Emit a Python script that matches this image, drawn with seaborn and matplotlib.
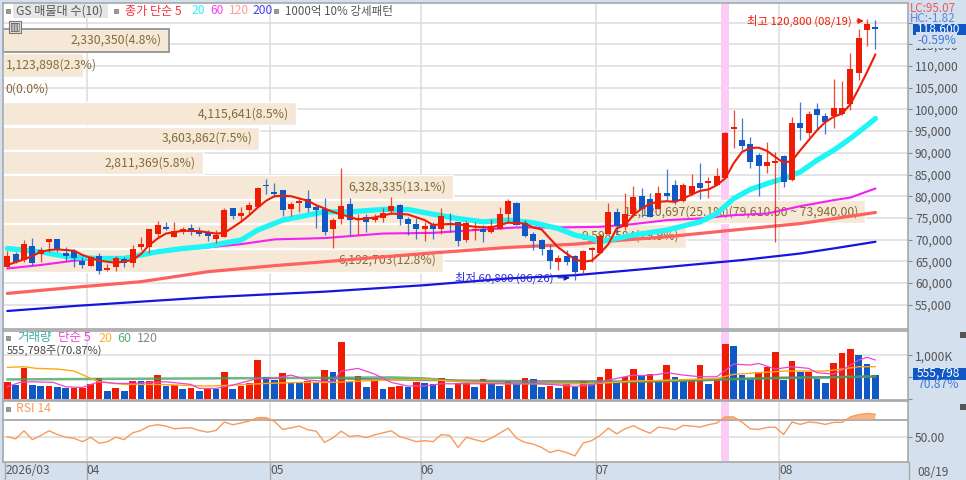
import matplotlib
matplotlib.use("Agg")
import matplotlib.pyplot as plt
import numpy as np
import seaborn as sns

# candles, one row of values per ~10 days
opens = [63750, 66650, 65300, 68500, 66650, 69450, 70100, 66950, 67450, 65000,
         64000, 66200, 62900, 63750, 65600, 64650, 68200, 68200, 71200, 72950,
         70650, 71650, 72650, 72100, 71650, 70250, 70650, 77250, 75500, 76800,
         77550, 82700, 80950, 81400, 77000, 78550, 79250, 77550, 76950, 72350,
         74650, 78150, 74500, 75250, 74500, 75050, 76550, 77950, 74650, 73700,
         72500, 73400, 72500, 73700, 73950, 69900, 72200, 72550, 71650, 72400,
         75850, 78400, 73900, 71250, 69900, 67600, 64750, 66200, 66200, 62950,
         67500, 66950, 71400, 76400, 73000, 75850, 80100, 79250, 77150, 80800,
         82550, 78850, 80600, 82950, 83150, 82700, 84100, 95600, 93050, 92000,
         89600, 86900, 87750, 89200, 83700, 96900, 94600, 100000, 98400, 98400,
         98900, 101200, 108400, 118200, 118900]
highs = [67350, 67200, 69900, 70400, 68350, 70250, 70250, 68200, 67750, 65900,
         66200, 66800, 64300, 66200, 65900, 68750, 70650, 72550, 74250, 74100,
         73950, 72950, 73700, 72800, 72200, 72200, 77200, 77400, 77550, 78700,
         82150, 83950, 83150, 81400, 78700, 79500, 81400, 77950, 79500, 75050,
         86450, 79500, 76000, 76000, 76000, 77200, 79850, 78100, 75250, 75050,
         74100, 74100, 77200, 76200, 74100, 74250, 74100, 73350, 74650, 77550,
         79250, 78700, 74500, 71800, 70250, 68750, 66450, 67600, 66450, 67600,
         68200, 71400, 78500, 77200, 80800, 82300, 82000, 80650, 82300, 86200,
         83850, 83100, 85200, 87550, 84450, 86600, 94800, 99800, 98100, 93650,
         89850, 92500, 90200, 89450, 98300, 101750, 99650, 101500, 99200, 107100,
         106500, 113000, 118600, 120800, 120700]
lows = [63750, 64500, 64900, 64150, 64900, 67200, 67200, 65150, 63750, 63350,
        64000, 62050, 62850, 62850, 63750, 63750, 67600, 66800, 70650, 72200,
        70650, 71400, 71050, 70800, 69650, 69250, 70650, 74800, 74350, 75650,
        77550, 80500, 79850, 75500, 75500, 76400, 76400, 72700, 71050, 68100,
        73500, 71050, 71050, 71800, 74100, 74100, 76000, 73350, 71050, 70250,
        69750, 70250, 71400, 71800, 68500, 69500, 69900, 69500, 71550, 72350,
        74100, 73350, 70500, 67600, 66450, 63150, 62950, 64150, 60800, 62350,
        64900, 66800, 71300, 71400, 72200, 75250, 75250, 75250, 76950, 79100,
        78300, 78700, 80250, 79250, 79500, 82550, 84100, 91000, 90600, 86500,
        80000, 85400, 69500, 82150, 83450, 92900, 93700, 95200, 94300, 95800,
        98650, 99800, 106700, 114550, 113900]
closes = [66200, 64900, 69100, 64650, 67600, 70100, 67750, 66200, 65800, 64150,
          65900, 62850, 63500, 65650, 64500, 67950, 69100, 72500, 73400, 72500,
          72050, 72500, 71950, 71200, 70800, 71050, 76800, 75400, 76200, 77950,
          82000, 82250, 80500, 76800, 78150, 78950, 77350, 76800, 71800, 74500,
          77700, 74500, 75050, 74100, 75250, 76200, 77700, 74700, 73700, 72350,
          73100, 72500, 75400, 73500, 69650, 73900, 72550, 71650, 73100, 75800,
          79000, 73350, 70900, 69650, 67750, 65150, 65800, 64750, 62600, 67350,
          68050, 70900, 76400, 73100, 75900, 79850, 77150, 75250, 80800, 80000,
          78700, 82550, 82300, 81800, 83300, 84600, 94650, 96000, 91500, 87900,
          87000, 87900, 88050, 83300, 96900, 95800, 98900, 98650, 97100, 100400,
          100400, 109250, 116450, 119750, 118600]

ma5_x = [0, 2, 3, 4, 5, 6, 8, 9, 11, 13, 15, 16, 17, 18, 19, 21, 23, 25, 26, 27,
         28, 29, 30, 31, 32, 33, 34, 36, 37, 39, 42, 44, 46, 48, 50, 51, 52, 54,
         56, 58, 60, 62, 63, 64, 65, 66, 67, 68, 69, 70, 71, 72, 73, 74, 75, 76,
         77, 78, 79, 80, 81, 82, 83, 84, 85, 86, 87, 88, 89, 90, 91, 92, 93, 94,
         95, 96, 97, 98, 99, 100, 101, 102, 103, 104]
ma5 = [64150, 65450, 66200, 67200, 67600, 67750, 67450, 66450, 65150, 64650,
       65300, 66650, 68750, 70250, 71400, 72050, 71950, 71400, 71550, 72800,
       74100, 75650, 77400, 78950, 80000, 80100, 80000, 78950, 77950, 76400,
       74650, 75100, 76000, 75800, 74500, 73350, 73550, 73550, 72950, 72800,
       73900, 73700, 72800, 72350, 70250, 68200, 66800, 65450, 64900, 65150,
       66800, 68950, 72570, 73350, 75650, 77150, 78300, 78700, 78850, 78700,
       79500, 80400, 81250, 81550, 82550, 84100, 87550, 90200, 91100, 91200,
       90450, 89050, 87700, 88150, 90600, 92900, 95200, 97100, 98300, 99050,
       101200, 104800, 108650, 112700]
ma20_x = [0, 2, 4, 6, 8, 11, 14, 16, 18, 21, 24, 28, 30, 33, 36, 38, 41, 45, 48,
          51, 54, 57, 60, 63, 66, 68, 70, 71, 75, 79, 83, 85, 87, 89, 91, 93, 95,
          97, 99, 101, 103, 104]
ma20 = [67950, 67600, 67200, 66450, 65900, 65650, 65650, 66450, 67200, 67950,
        68500, 69900, 72200, 74500, 75650, 76400, 76400, 76950, 76950, 75850,
        74850, 74100, 74500, 73900, 72550, 71050, 70250, 69500, 71050, 72200,
        74100, 76000, 79450, 81550, 82900, 84100, 85600, 88300, 90600, 93300,
        96350, 97900]
ma60_x = [0, 4, 8, 14, 18, 24, 28, 32, 38, 45, 51, 56, 61, 66, 71, 75, 79, 83,
          87, 91, 95, 99, 101, 104]
ma60 = [63350, 64150, 65150, 65900, 67200, 68200, 68950, 70050, 70350, 71400,
        71550, 72200, 72800, 72800, 72950, 73570, 74490, 74875, 75640, 76000,
        77700, 79100, 79700, 81780]
ma120_x = [0, 8, 16, 24, 32, 38, 50, 60, 68, 71, 79, 87, 95, 104]
ma120 = [57600, 59000, 60300, 62600, 64000, 64900, 66800, 68200, 68950, 69500,
         70650, 72200, 73700, 76250]
ma200_x = [0, 8, 16, 24, 32, 38, 50, 60, 68, 76, 88, 95, 99, 104]
ma200 = [53550, 54700, 55700, 56700, 57450, 58000, 59500, 61050, 61800, 63150,
         65280, 66800, 67970, 69500]

# volume in thousands of shares
volume = [382, 320, 702, 320, 298, 298, 275, 259, 259, 259, 343, 488, 191, 259,
          191, 412, 412, 412, 549, 298, 320, 237, 259, 191, 244, 237, 610, 237,
          298, 359, 900, 496, 435, 603, 374, 374, 412, 374, 664, 626, 1297, 412,
          534, 275, 412, 221, 275, 298, 275, 382, 359, 336, 473, 259, 359, 359,
          275, 450, 359, 298, 412, 336, 473, 450, 275, 298, 259, 359, 275, 412,
          336, 496, 687, 374, 496, 687, 534, 572, 435, 778, 511, 435, 435, 778,
          343, 435, 1251, 1221, 549, 458, 626, 725, 1068, 435, 877, 626, 626,
          450, 359, 816, 1045, 1137, 1007, 794, 555.8]
vol_side = list("RBRBBRBBRRRRBRBRBRRBRBRBRBRBRRRBBRBBRBRB"
                "RBRBRBRRBRBBRBRRBRBBRBRBBRBRBRBRRBRRBR"
                "BRBBRRBRRBBBRRRBRBRBBRRRBBB")
vma5_x = [0, 1.5, 3, 5.5, 7, 9, 11, 13, 15, 19, 22, 23, 25, 27, 30, 32, 34, 36,
          39, 40, 42, 44, 46, 48, 50, 52, 56, 60, 64, 68, 70, 72, 75, 76, 78, 79,
          81, 83, 85, 87, 89, 90, 92, 94, 96, 97, 99, 100, 102, 103, 104]
vma5 = [282, 382, 397, 382, 282, 267, 397, 359, 359, 397, 336, 244, 244, 320,
        473, 473, 549, 435, 397, 641, 702, 572, 382, 298, 298, 351, 351, 351,
        351, 290, 320, 435, 549, 534, 565, 603, 549, 511, 511, 801, 778, 816,
        687, 740, 702, 603, 572, 664, 893, 954, 893]
vma20_x = [0, 2, 3.5, 6, 8, 10, 11, 14, 18, 24, 27, 31, 35, 39, 45, 50, 55, 60,
           65, 70, 75, 80, 85, 87, 90, 93, 96, 98, 100, 102, 104]
vma20 = [725, 740, 702, 687, 641, 473, 397, 336, 336, 298, 320, 359, 382, 382,
         435, 450, 397, 351, 351, 351, 412, 435, 473, 565, 603, 641, 641, 641,
         687, 740, 740]
vma60_x = [0, 39, 46, 50, 55, 65, 75, 80, 90, 98, 104]
vma60 = [450, 488, 496, 473, 397, 359, 397, 420, 473, 496, 526]
vma120_x = [38, 50, 62, 70, 76, 84, 92, 104]
vma120 = [473, 435, 412, 412, 397, 435, 488, 511]

rsi = [50, 47.2, 56.8, 46.4, 51.2, 56.8, 52.4, 49.2, 48, 44, 49.2, 42, 44, 49.2,
       46.4, 54.4, 57.2, 62.4, 64, 62.4, 59.2, 60, 60.4, 57.2, 55.2, 57.2, 67.2,
       64, 66, 68.4, 72.4, 72.4, 68, 58.4, 60.4, 62.4, 58, 56.4, 43.2, 48.4,
       56.4, 50, 51.2, 48.8, 52, 54.4, 56.8, 50, 47.2, 44, 45.2, 44, 52.4, 51.2,
       37.2, 49.2, 46.4, 44, 48.4, 54, 60, 48, 43.2, 41.2, 37.2, 31.2, 34, 31.2,
       27.2, 42.4, 45.2, 51.2, 60, 53.2, 59.2, 62.8, 58, 54, 61.2, 60, 58, 63.2,
       62.4, 61.2, 64, 66, 73.2, 73.2, 67.2, 59.2, 58.4, 60.8, 61.2, 52.4, 67.2,
       64.4, 67.2, 66.4, 64.4, 66.8, 66.8, 73.2, 76, 77.2, 76.4]

# volume-by-price rows, top to bottom
row_price = [115900, 110270, 104630, 99000, 93360, 87730, 82100, 76460, 70830, 65190]
row_volume = [2330350, 1123898, 0, 4115641, 3603862, 2811369, 6328335, 12120697, 9598584, 6192703]
row_share = [4.8, 2.3, 0.0, 8.5, 7.5, 5.8, 13.1, 25.1, 19.9, 12.8]

price_ticks = [55000, 60000, 65000, 70000, 75000, 80000, 85000, 90000, 95000,
               100000, 105000, 110000, 115000, 120000]
month_pos = [-0.25, 9.5, 31.5, 49.5, 70.5, 92.5]
month_labels = ["2026/03", "04", "05", "06", "07", "08"]
signal_day = 86

RED = "#ee1c05"
BLUE = "#1158c7"
GRID = "#dcdcdc"
BORDER = "#a8a8a8"
PANEL = "#d5e0ee"
BEIGE = "#f5e8d6"
BROWN = "#846a36"
PINK = "#fbcdf6"
TICK_SIZE = 8.7

W, H = 966, 480

sns.set_theme(style="white")
plt.rcParams["font.family"] = ["Noto Sans CJK KR", "DejaVu Sans"]
plt.rcParams["axes.unicode_minus"] = False


def pane(top, bottom, left=3, right=908):
    a = fig.add_axes([left / W, 1 - bottom / H, (right - left) / W, (bottom - top) / H])
    a.set_xlim(-0.515, 107.9)
    for s in a.spines.values():
        s.set_color(BORDER)
        s.set_linewidth(1.2)
    return a


def line(a, xs, ys, color, lw, alpha=1.0, z=3):
    sns.lineplot(x=xs, y=ys, color=color, linewidth=lw, alpha=alpha, ax=a,
                 estimator=None, sort=False, legend=False, zorder=z)


def label(x, y, s, color="#555555", size=9, ha="left", **kw):
    return fig.text(x / W, 1 - y / H, s, color=color, fontsize=size, ha=ha, va="center", **kw)


def square(x, y):
    fig.patches.append(plt.Rectangle(((x - 2) / W, 1 - (y + 2) / H), 4 / W, 4 / H,
                                     transform=fig.transFigure, facecolor="#9a9a9a",
                                     edgecolor="#777777", lw=0.5))


def tag(top, bottom):
    fig.patches.append(plt.Rectangle((913 / W, 1 - bottom / H), 53 / W, (bottom - top) / H,
                                     transform=fig.transFigure, facecolor=BLUE,
                                     edgecolor="none", zorder=7))


fig = plt.figure(figsize=(W / 100, H / 100), dpi=100, facecolor=PANEL)
idx = np.arange(len(closes))

# price pane
ax = pane(3, 329)
ax.set_ylim(49400, 124530)
ax_rows = ax.twiny()
ax_rows.set_zorder(1)
ax.set_zorder(2)
ax.patch.set_visible(False)
ax_rows.patch.set_facecolor("white")
ax_rows.patch.set_visible(True)
ax_rows.set_xlim(0, (908 - 3) / 862 * max(row_volume))
ax_rows.tick_params(top=False, labeltop=False)
for s in ax_rows.spines.values():
    s.set_visible(False)
ax_rows.grid(False)

# grid and band have to stay under the rows, so they are drawn in row-axis terms
to_rows = ax.transData + ax_rows.transData.inverted()
for p in price_ticks:
    ax_rows.axhline(p, color=GRID, lw=1.1, zorder=0)
for m in month_pos[1:]:
    ax_rows.axvline(to_rows.transform((m, p))[0], color=GRID, lw=1.1, zorder=0)
band_l = to_rows.transform((signal_day - 0.5, p))[0]
band_r = to_rows.transform((signal_day + 0.5, p))[0]
ax_rows.axvspan(band_l, band_r, color=PINK, lw=0, zorder=0.5)

ax_rows.barh(row_price, row_volume, height=5400, color=BEIGE, zorder=1)
ax_rows.barh(row_price[0], row_volume[0], height=5400, facecolor="none",
             edgecolor="#9a9a9a", lw=1.4, zorder=1.5)
for n, (p, v, sh) in enumerate(zip(row_price, row_volume, row_share)):
    txt = f"{v:,}({sh:.1f}%)"
    if n == 7:
        txt += "(79,610.00 ~ 73,940.00)"
    pad = 0.008 * max(row_volume)
    if v < 1500000:
        ax_rows.text(40000, p, txt, color=BROWN, fontsize=8.8, ha="left", va="center",
                     fontweight="medium", zorder=2)
    else:
        ax_rows.text(v - pad, p, txt, color=BROWN, fontsize=8.8, ha="right", va="center",
                     fontweight="medium", zorder=2)

line(ax, ma200_x, ma200, "#1515e0", 1.6, z=2)
line(ax, ma120_x, ma120, "#ff6060", 2.3, z=2)
line(ax, ma60_x, ma60, "#f31ff3", 1.5, z=2)
line(ax, ma20_x, ma20, "#1ff5f5", 3.8, z=2)

colors = [RED if c >= o else BLUE for o, c in zip(opens, closes)]
ax.vlines(idx, lows, highs, colors=colors, lw=0.9, alpha=0.8, zorder=4)
body_low = np.minimum(opens, closes)
body_h = np.maximum(np.abs(np.subtract(closes, opens)), 250)
ax.bar(idx, body_h, bottom=body_low, width=0.72, color=colors, lw=0, zorder=5)
line(ax, ma5_x, ma5, RED, 1.5, z=6)

# 120,000 sits behind the price tag in the original, so it gets no label
ax.yaxis.tick_right()
ax.set_yticks(price_ticks, [f"{p:,}" if p < 120000 else "" for p in price_ticks])
ax.tick_params(axis="y", right=True, length=3, width=0.8, color="#888888", pad=2,
               labelsize=TICK_SIZE, labelcolor="#555555")
ax.set_xticks([])
ax.set_xlabel("")
ax.set_ylabel("")

hi = int(np.argmax(highs))
lo = int(np.argmin(lows))
ax.annotate(f"최고 {highs[hi]:,} (08/19)", xy=(hi - 0.4, highs[hi] - 400), xytext=(hi - 1.8, highs[hi] - 400),
            color=RED, fontsize=8.2, ha="right", va="center", zorder=8,
            arrowprops=dict(arrowstyle="-|>", color=RED, lw=0.8, shrinkA=1, shrinkB=0))
ax.annotate(f"최저 {lows[lo]:,} (06/26)", xy=(lo - 0.6, lows[lo] + 400), xytext=(lo - 2.6, lows[lo] + 400),
            color="#2a2ad8", fontsize=8.2, ha="right", va="center", zorder=8,
            arrowprops=dict(arrowstyle="-|>", color="#1515c0", lw=0.8, shrinkA=1, shrinkB=0))

# volume pane
ax_v = pane(331, 400)
ax_v.set_facecolor("white")
ax_v.axhline(1000, color=GRID, lw=1.1, zorder=0)
for m in month_pos[1:]:
    ax_v.axvline(m, color=GRID, lw=1.1, zorder=0)
sns.barplot(x=idx, y=volume, hue=vol_side, palette={"R": RED, "B": BLUE}, native_scale=True,
            width=0.8, dodge=False, errorbar=None, legend=False, ax=ax_v, zorder=3, lw=0,
            saturation=1)
ax_v.axvspan(signal_day - 0.5, signal_day + 0.5, color=PINK, lw=0, zorder=0.5)
line(ax_v, vma120_x, vma120, "#777777", 1.6, alpha=0.8, z=4)
line(ax_v, vma60_x, vma60, "#3fa05a", 1.8, alpha=0.75, z=4)
line(ax_v, vma20_x, vma20, "#ffa814", 1.0, z=5)
line(ax_v, vma5_x, vma5, "#ea45d0", 0.9, z=5)
ax_v.set_xlim(-0.515, 107.9)
ax_v.set_ylim(-20, 1556)
ax_v.yaxis.tick_right()
ax_v.set_yticks([0, 500, 1000], ["", "", "1,000K"])
ax_v.tick_params(axis="y", right=True, length=3, width=0.8, color="#888888", pad=2,
                 labelsize=TICK_SIZE, labelcolor="#555555")
ax_v.set_xticks([])
ax_v.set_xlabel("")
ax_v.set_ylabel("")

# rsi pane
ax_r = pane(401, 462)
ax_r.set_facecolor("white")
ax_r.set_ylim(20, 92)
ax_r.axhline(50, color=GRID, lw=1.1, zorder=0)
ax_r.axhline(70, color="#999999", lw=1.1, zorder=1)
ax_r.axvspan(signal_day - 0.5, signal_day + 0.5, color=PINK, lw=0, zorder=0.5)
for m in month_pos[1:]:
    ax_r.axvline(m, color=GRID, lw=1.1, zorder=0)
ax_r.fill_between(idx, 70, rsi, where=np.array(rsi) >= 70, interpolate=True,
                  color="#f7a36b", alpha=0.8, lw=0, zorder=2)
line(ax_r, idx, rsi, "#f89a5c", 1.0, z=3)
ax_r.yaxis.tick_right()
ax_r.set_yticks([50], ["50.00"])
ax_r.tick_params(axis="y", right=True, length=3, width=0.8, color="#888888", pad=2,
                 labelsize=TICK_SIZE, labelcolor="#555555")
ax_r.set_xticks(month_pos, month_labels, ha="left")
ax_r.tick_params(axis="x", bottom=True, length=13, width=1.0, color="#a8a8a8", pad=-11.5,
                 labelsize=8.6, labelcolor="#555555")
ax_r.set_xlabel("")
ax_r.set_ylabel("")
ax_r.set_xlim(-0.515, 107.9)
fig.add_artist(plt.Line2D([908.5 / W] * 2, [0, 18 / H], color="#a8a8a8", lw=1))

# header legends
fig.patches.append(plt.Rectangle((13 / W, 1 - 17.5 / H), 95 / W, 13 / H, transform=fig.transFigure,
                                 facecolor="#e6e6e6", edgecolor="none", zorder=5))
for sx, sy in [(8, 11), (116, 11), (276, 11), (8, 338), (8, 409)]:
    square(sx, sy)
tops = [(16, "GS 매물대 수(10)", "#555555"), (125, "종가 단순 5", "#f5323a"), (191, "20", "#2ef0f5"),
        (210, "60", "#f53ff0"), (229, "120", "#ff9c9c"), (252, "200", "#4040f0")]
for x, s, c in tops:
    label(x, 11, s, c, size=8.7, zorder=6)
label(285, 11, "1000억 10% 강세패턴", "#555555", size=8.3, zorder=6)
label(17, 338, "거래량", "#3fa8a8")
label(58, 338, "단순 5", "#ea45d0")
label(98, 338, "20", "#ffb030")
label(117, 338, "60", "#55b070")
label(137, 338, "120", "#888888")
label(7, 351, "555,798주(70.87%)", "#444444", size=8)
label(16, 409, "RSI 14", "#f89a5c", size=8.8)

# table icon next to the first row
fig.patches.append(plt.Rectangle((9 / W, 1 - 33 / H), 12 / W, 12 / H, transform=fig.transFigure,
                                 facecolor="#dddddd", edgecolor="#777777", lw=0.8, zorder=7))
label(15, 26.5, "▥", "#555555", size=8, ha="center", zorder=8, family=["DejaVu Sans"])

# right side tags, the tick label under -0.59% only peeks out as in the original
label(910, 8, "LC:95.07", "#ee5555", size=8.4, zorder=8)
label(910, 18, "HC:-1.82", "#5588dd", size=8.4, zorder=6)
tag(24, 35)
label(917, 29.5, f"{closes[-1]:,}", "white", size=8.7, zorder=8)
label(917, 40, "-0.59%", "#3f78d8", size=8.7, zorder=8,
      bbox=dict(facecolor=PANEL, edgecolor="none", pad=1))
tag(367.5, 380)
label(917, 373.5, "555,798", "white", size=8.7, zorder=8)
label(917, 385, "70.87%", "#3f78d8", size=8.7, zorder=8)
label(917, 472, "08/19", "#555555", size=8.7)
for iy in (335, 407):
    fig.patches.append(plt.Rectangle((960 / W, 1 - (iy + 3) / H), 6 / W, 6 / H, transform=fig.transFigure,
                                     facecolor="#555555", edgecolor="none", zorder=7))

fig.savefig("out.png", dpi=100, facecolor=fig.get_facecolor())
